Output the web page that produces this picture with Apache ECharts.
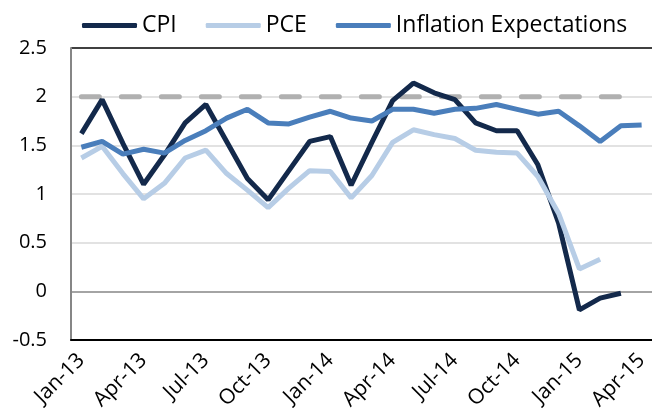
<!DOCTYPE html>
<html>
<head>
<meta charset="utf-8">
<script src="https://cdn.jsdelivr.net/npm/echarts@6/dist/echarts.min.js"></script>
<style>
html,body{margin:0;padding:0;background:#fff;}
#chart{width:652px;height:419px;}
</style>
</head>
<body>
<div id="chart"></div>
<script>
var months = ['Jan-13','Feb-13','Mar-13','Apr-13','May-13','Jun-13','Jul-13','Aug-13','Sep-13','Oct-13','Nov-13','Dec-13',
              'Jan-14','Feb-14','Mar-14','Apr-14','May-14','Jun-14','Jul-14','Aug-14','Sep-14','Oct-14','Nov-14','Dec-14',
              'Jan-15','Feb-15','Mar-15','Apr-15'];
var cpi = [1.62,1.97,1.52,1.10,1.40,1.73,1.92,1.54,1.16,0.94,1.24,1.54,
           1.59,1.09,1.53,1.96,2.14,2.04,1.97,1.73,1.65,1.65,1.30,0.70,
           -0.19,-0.07,-0.02,null];
var pce = [1.37,1.49,1.21,0.95,1.11,1.37,1.45,1.21,1.04,0.86,1.06,1.24,
           1.23,0.96,1.19,1.53,1.66,1.61,1.57,1.45,1.43,1.42,1.18,0.80,
           0.23,0.33,null,null];
var expectations = [1.48,1.54,1.41,1.46,1.42,1.55,1.65,1.78,1.87,1.73,1.72,1.79,
                    1.85,1.78,1.75,1.87,1.87,1.83,1.87,1.88,1.92,1.87,1.82,1.85,
                    1.70,1.54,1.70,1.71];
var target = [2,2,2,2,2,2,2,2,2,2,2,2,2,2,2,2,2,2,2,2,2,2,2,2,2,2,2,null];

var FONT = '"Open Sans", sans-serif';
var chart = echarts.init(document.getElementById('chart'), null, {renderer:'canvas'});
chart.setOption({
  animation: false,
  backgroundColor: '#fff',
  legend: {
    left: 77, top: 9,
    itemWidth: 55, itemHeight: 5, itemGap: 29,
    icon: 'roundRect',
    data: ['CPI','PCE','Inflation Expectations'],
    textStyle: {fontFamily: FONT, fontSize: 23, color: '#000'}
  },
  grid: {left: 71, right: 0, top: 48, bottom: 79, containLabel: false},
  xAxis: [{
    type: 'category',
    data: months,
    boundaryGap: true,
    axisLine: {onZero: false, lineStyle: {color: '#000', width: 2}},
    axisTick: {show: false},
    axisLabel: {interval: 2, rotate: 45, margin: 17, fontFamily: FONT, fontSize: 21, color: '#000'},
    splitLine: {show: false}
  }],
  yAxis: {
    type: 'value',
    min: -0.5, max: 2.5, interval: 0.5,
    axisLine: {show: true, lineStyle: {color: '#868686', width: 2}},
    axisTick: {show: false},
    axisLabel: {margin: 24, fontFamily: FONT, fontSize: 20, color: '#000'},
    splitLine: {show: true, lineStyle: {color: ['#000','#868686','#d9d9d9','#d9d9d9','#d9d9d9','#d9d9d9','#000'], width: 1.5}}
  },
  series: [
    {name: 'Target', type: 'line', data: target, symbol: 'none', silent: true, z: 1,
     lineStyle: {color: '#b0b0b0', width: 5, type: [18, 22], cap: 'round'}},
    {name: 'CPI', type: 'line', data: cpi, symbol: 'none', z: 2,
     lineStyle: {color: '#13294b', width: 5}, itemStyle: {color: '#13294b'}},
    {name: 'PCE', type: 'line', data: pce, symbol: 'none', z: 3,
     lineStyle: {color: '#b7cde6', width: 5}, itemStyle: {color: '#b7cde6'}},
    {name: 'Inflation Expectations', type: 'line', data: expectations, symbol: 'none', z: 4,
     lineStyle: {color: '#4a7ebb', width: 5}, itemStyle: {color: '#4a7ebb'}}
  ]
});
</script>
</body>
</html>
